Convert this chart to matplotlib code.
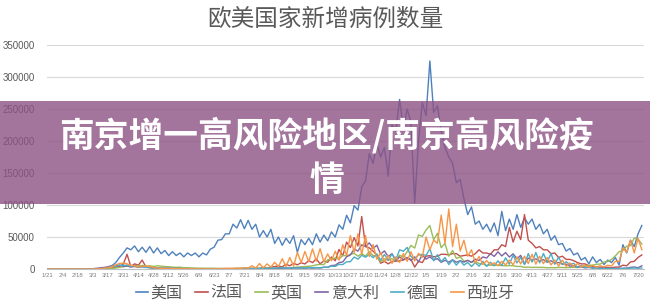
import numpy as np
import matplotlib
matplotlib.use('Agg')
import matplotlib.pyplot as plt
from matplotlib.patches import Rectangle
from matplotlib.lines import Line2D

# ---------------- data (daily new cases, thousands, sampled every 3.5 days from 2020-01-21) -------------
us = [0,0,0,0,0,0,0,0,0,0,0,0,0.1,
      0.1,0.3,0.7,1.8,5,10,18,
      25,33,30,36,27,34,26,35,25,33,
      24,29,21,27,21,25,19,25,21,25,
      19,25,22,31,34,45,46,55,55,70,
      64,77,63,76,62,70,50,60,50,62,
      40,50,37,48,40,52,26,46,38,48,
      38,55,42,53,44,58,50,69,62,84,
      72,99,92,128,138,180,165,195,175,190,
      145,225,215,265,220,250,230,103,200,260,
      240,325,245,255,215,190,175,165,135,140,
      110,85,97,70,75,62,70,58,72,52,
      90,60,78,62,85,65,80,70,78,62,
      70,55,62,45,52,38,40,28,32,22,
      25,14,18,8,19,10,15,7,14,10,
      18,6,38,25,45,35,55,68]
france = [0,0,0,0,0,0,0,0,0,0,0,0,0,
          0.1,0.4,0.8,1.1,1.6,3,4,
          7.5,23,4,8,6,14,3,2,1,1.5,
          1,0.6,0.8,0.5,0.6,0.3,0.2,0.5,0.6,0.6,
          0.4,0.5,0.4,0.5,0.6,0.6,0.6,0.8,0.6,0.7,
          0.6,1.0,1.0,1.3,0.9,1.4,1.0,2.3,1.4,2.8,
          3.8,4.6,3.3,7.4,5.0,8.9,6.5,9.8,7.9,13.2,
          10,16,8,12.8,10.5,18.7,12.9,30.6,20.5,42,
          33.4,49,36,82,35,33,28,22,9,12,
          8,12,12,13,14,17,15,3,12,10,
          20,21,19,20,23,23,22,24,24,20,
          21,22,20,24,30,25,25,23,30,30,
          38,35,65,42,59,46,85,45,40,33,
          35,30,30,24,25,18,20,15,15,13,
          10,8,8,5,4,3.5,3,2.5,2.5,2,
          3,3,6,5,11,12,18,22]
uk = [0,0,0,0,0,0,0,0,0,0,0,0,0,
      0,0,0,0.5,1.0,1.5,2.5,
      3.5,4.5,5.5,5.2,5.0,5.5,4.5,5.0,4.0,5.0,
      4.5,3.8,3.5,3.0,2.5,2.8,2.0,2.0,1.6,1.5,
      1.2,1.3,1.1,1.0,0.9,0.9,0.8,0.7,0.6,0.7,
      0.6,0.8,0.7,0.8,0.8,0.9,0.9,1.0,1.0,1.1,
      1.0,1.2,1.0,1.3,1.5,2.5,3.0,3.5,3.9,4.3,
      4.9,6.5,7.1,7.0,14.5,15.0,17.2,15.6,21.3,20.5,
      22.9,24.4,20.0,24.0,20.4,27.0,21.0,20.0,11.0,16.0,
      13.5,16.3,12.3,21.6,18.4,27.0,36.8,32.7,53.1,51.0,
      61.0,68.0,45.5,55.8,33.3,40.0,20.0,29.0,16.5,19.0,
      12.3,13.3,10.6,12.0,8.5,8.0,5.5,6.0,5.7,6.0,
      5.3,5.0,5.4,5.0,4.0,4.0,2.6,3.0,2.5,2.7,
      2.5,2.5,2.0,2.2,2.0,2.5,2.3,2.2,2.4,2.8,
      2.4,4.0,3.2,6.0,6.0,7.5,7.7,11.0,11.6,15.0,
      20.5,27.0,28.8,35.7,36.7,48.5,46.5,39.0]
italy = [0,0,0,0,0,0,0,0,0,0,0.1,0.3,0.5,
         1.2,1.8,2.5,3.5,5.3,5.2,6.0,
         4.1,4.6,3.0,3.9,2.7,3.5,2.7,2.6,2.1,1.9,
         1.1,1.3,1.4,0.9,0.8,0.7,0.4,0.5,0.3,0.5,
         0.3,0.3,0.2,0.3,0.2,0.2,0.2,0.2,0.2,0.3,
         0.2,0.3,0.3,0.3,0.2,0.4,0.2,0.5,0.4,0.6,
         0.6,1.0,1.0,1.5,1.0,1.7,1.4,1.6,1.2,1.9,
         1.4,1.9,1.6,2.8,2.7,5.4,5.9,10.0,11.0,19.0,
         22.0,31.0,28.0,37.8,35.1,40.9,32.2,37.2,23.2,28.3,
         19.4,24.0,12.8,18.7,14.8,17.9,13.3,19.0,11.2,22.2,
         15.4,19.0,14.2,16.1,10.5,13.6,10.6,14.4,10.6,13.0,
         10.6,13.6,10.4,15.5,13.3,18.9,17.1,24.0,19.7,26.8,
         20.4,25.7,18.7,23.8,16.0,21.3,7.8,17.2,13.4,15.9,
         12.0,14.7,10.4,12.9,9.1,10.2,7.8,7.5,4.5,5.2,
         3.2,3.4,1.8,2.4,1.9,1.9,0.9,1.2,0.8,0.9,
         0.7,1.0,1.0,1.4,2.5,3.1,2.0,5.0]
germany = [0,0,0,0,0,0,0,0,0,0,0,0,0,
           0.2,0.3,0.9,1.8,4.5,4.5,6.0,
           5.5,6.2,4.0,5.3,2.5,3.6,2.3,2.3,1.3,1.6,
           0.9,1.2,0.9,0.7,0.8,0.7,0.4,0.7,0.3,0.5,
           0.3,0.4,0.3,0.8,0.6,0.5,0.5,0.4,0.4,0.4,
           0.4,0.6,0.5,0.8,0.6,0.9,0.7,1.1,1.0,1.4,
           1.4,2.0,1.6,1.6,1.2,1.8,1.1,1.7,1.4,2.1,
           1.8,2.3,1.8,2.7,2.6,4.5,4.1,7.3,6.9,11.2,
           11.4,18.7,15.4,21.5,18.4,22.9,17.6,23.6,13.6,22.8,
           13.6,23.5,14.0,30.0,27.7,33.8,19.5,15.0,22.0,22.9,
           21.2,31.8,12.8,22.4,11.4,17.9,6.9,14.0,6.1,12.9,
           6.1,10.2,3.9,9.9,4.4,11.9,4.0,10.6,5.0,12.8,
           5.5,17.5,7.5,21.5,9.5,18.1,7.0,24.1,10.8,25.8,
           9.6,24.3,10.9,24.3,7.5,18.5,6.9,11.4,6.9,8.9,
           2.6,5.5,2.2,3.2,1.2,1.7,0.5,1.1,0.5,0.9,
           0.4,0.8,1.0,1.2,1.5,1.5,1.2,1.6]
spain = [0,0,0,0,0,0,0,0,0,0,0,0,0,
         0.2,0.5,1.4,2.0,3.5,6.5,8.6,
         9.2,8.1,5.5,5.1,3.0,4.5,4.0,4.2,2.1,1.5,
         1.0,1.0,0.6,0.6,0.5,0.4,0.2,0.3,0.3,0.3,
         0.3,0.4,0.3,0.4,0.3,0.3,0.3,0.5,1.0,0.8,
         1.5,1.0,2.0,1.2,5.0,1.5,8.5,1.7,8.0,2.9,
         10.5,3.6,16.0,3.8,18.0,4.5,26.0,10.0,27.4,11.3,
         31.4,12.3,31.8,11.3,23.5,12.8,27.9,13.9,37.9,20.9,
         52.2,25.6,55.0,22.6,52.4,19.5,38.3,15.2,25.8,11.1,
         21.4,8.7,19.0,10.3,24.0,12.0,27.0,12.5,24.5,18.0,
         50.0,30.0,45.0,40.2,84.3,40.0,93.8,34.9,70.0,28.0,
         45.0,20.0,30.0,9.3,19.5,7.4,13.1,6.8,9.8,5.0,
         12.0,6.4,14.0,6.6,19.0,7.8,20.0,8.6,23.0,7.5,
         20.0,8.3,18.0,6.4,14.0,4.5,14.0,4.0,9.4,4.0,
         8.5,3.3,6.0,3.0,5.5,3.0,5.0,3.5,5.8,4.6,
         12.0,12.0,33.0,26.0,45.0,25.0,48.0,30.0]

series_names = ['美国', '法国', '英国', '意大利', '德国', '西班牙']
series_colors = ['#4F81BD', '#C0504D', '#9BBB59', '#8064A2', '#4BACC6', '#F79646']
tick_labels = ['1/21', '2/4', '2/18', '3/3', '3/17', '3/31', '4/14', '4/28', '5/12', '5/26',
               '6/9', '6/23', '7/7', '7/21', '8/4', '8/18', '9/1', '9/15', '9/29', '10/13',
               '10/27', '11/10', '11/24', '12/8', '12/22', '1/5', '1/19', '2/2', '2/16', '3/2',
               '3/16', '3/30', '4/13', '4/27', '5/11', '5/25', '6/8', '6/22', '7/6', '7/20']
y_ticks = [0, 50000, 100000, 150000, 200000, 250000, 300000, 350000]
title = '欧美国家新增病例数量'
banner_lines = ['南京增一高风险地区/南京高风险疫', '情']

all_series = [us, france, uk, italy, germany, spain]
for s in all_series:
    assert len(s) == len(us), [len(t) for t in all_series]

# ---------------- plot -------------
plt.rcParams['font.family'] = ['Noto Sans CJK SC', 'DejaVu Sans']

W, H = 650, 306
fig = plt.figure(figsize=(W / 100, H / 100), dpi=100)
fig.patch.set_facecolor('white')
ax = fig.add_axes([47 / W, (H - 269) / H, 597 / W, 224 / H])

days = np.arange(len(us)) * 3.5
for vals, name, col in zip(all_series, series_names, series_colors):
    ax.plot(days, np.array(vals) * 1000, color=col, lw=1.0, label=name)

ax.set_xlim(-0.5, 551.5)
ax.set_ylim(0, 350000)
ax.set_xticks(np.arange(len(tick_labels)) * 14)
ax.set_xticklabels(tick_labels, fontsize=4.3, color='#7f7f7f', family='Liberation Sans')
ax.set_yticks(y_ticks)
ax.set_yticklabels([str(v) for v in y_ticks], fontsize=7, color='#595959', family='Liberation Sans')
ax.tick_params(axis='both', length=0)
ax.tick_params(axis='y', pad=9)
ax.tick_params(axis='x', pad=3)
ax.yaxis.grid(True, color='#d9d9d9', lw=0.8)
ax.set_axisbelow(True)
for sp in ['top', 'right', 'left']:
    ax.spines[sp].set_visible(False)
ax.spines['bottom'].set_color('#bfbfbf')
ax.spines['bottom'].set_linewidth(0.8)

fig.text(0.5, 1 - 19 / H, title, ha='center', va='center', fontsize=17, color='#595959')

handles = [Line2D([0], [0], color=c, lw=1.2) for c in series_colors]
leg = fig.legend(handles, series_names, loc='center', bbox_to_anchor=(0.5, 1 - 293 / H), ncol=6,
                 frameon=False, fontsize=11.5, handlelength=0.8, handletextpad=0.15, columnspacing=0.8)
for t in leg.get_texts():
    t.set_color('#595959')

# overlay banner
fig.add_artist(Rectangle((0, 1 - 204 / H), 1, 103 / H, transform=fig.transFigure,
                         facecolor=(140 / 255, 82 / 255, 132 / 255), alpha=0.8, edgecolor='none', zorder=10))
fig.text(0.503, 1 - 135 / H, banner_lines[0], ha='center', va='center', fontsize=25, weight='bold',
         color='white', zorder=11)
fig.text(0.503, 1 - 180 / H, banner_lines[1], ha='center', va='center', fontsize=25, weight='bold',
         color='white', zorder=11)

fig.savefig('out.png', dpi=100)
